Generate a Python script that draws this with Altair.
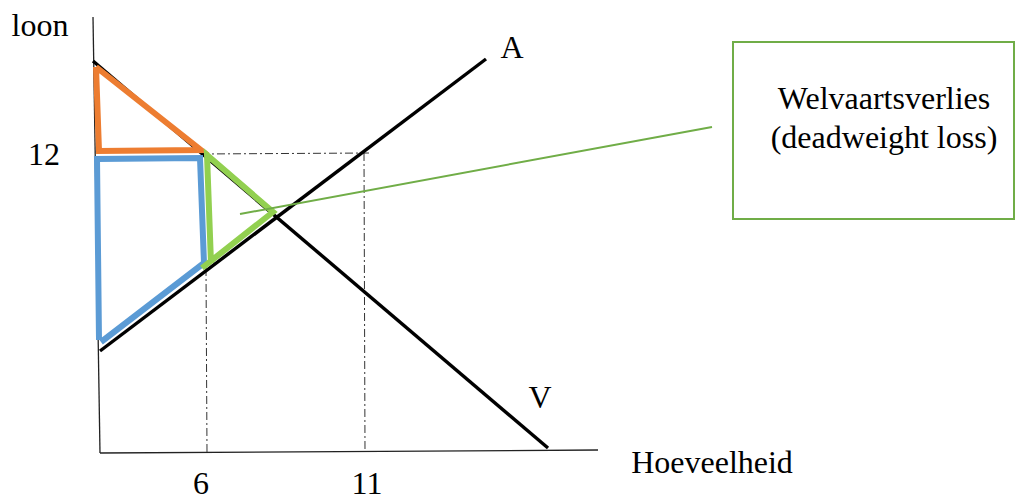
import altair as alt
import pandas as pd

# ---- data (drawing coordinates, y grows downward) ----
yaxis_x = [93, 100]
yaxis_y = [17, 453]
xaxis_x = [100, 598]
xaxis_y = [453, 450]

supply_x = [100, 486]          # A
supply_y = [351, 59]
demand_x = [93, 548]           # V
demand_y = [61, 448]

guide_h_x = [201, 369]
guide_h_y = [154, 153]
guide_v6_x = [206, 207]
guide_v6_y = [268, 452]
guide_v11_x = [364, 365]
guide_v11_y = [153, 451]

orange_x = [96, 99, 201, 96]
orange_y = [67, 151, 150, 67]
blue_x = [99, 97, 200, 204, 101]
blue_y = [340, 159, 158, 263, 342]
green_x = [202, 273, 207, 211]
green_y = [268, 212, 155, 263]

pointer_x = [240, 712]
pointer_y = [214, 127]

box_x = [733, 1014]
box_y = [42, 219]

label_text = ["loon", "12", "6", "11", "Hoeveelheid", "A", "V",
              "Welvaartsverlies", "(deadweight loss)"]
label_x = [40, 44, 201, 367, 712, 512, 540, 884, 884]
label_y = [36, 165, 494, 494, 473, 58, 408, 109, 148]


def path(name, xs, ys):
    return pd.DataFrame({"shape": name, "i": range(len(xs)), "x": xs, "y": ys})


X = alt.X("x:Q", scale=alt.Scale(domain=[8, 1016], nice=False, zero=False), axis=None)
Y = alt.Y("y:Q", scale=alt.Scale(domain=[8, 502], reverse=True, nice=False, zero=False), axis=None)


def line_layer(df, color, width, dash=None):
    kw = dict(color=color, strokeWidth=width, clip=False)
    if dash is not None:
        kw["strokeDash"] = dash
    return alt.Chart(df).mark_line(**kw).encode(
        x=X, y=Y, detail="shape:N", order="i:Q"
    )


axes_df = pd.concat([path("yaxis", yaxis_x, yaxis_y), path("xaxis", xaxis_x, xaxis_y)])
curves_df = pd.concat([path("A", supply_x, supply_y), path("V", demand_x, demand_y)])
guides_df = pd.concat([
    path("h", guide_h_x, guide_h_y),
    path("v6", guide_v6_x, guide_v6_y),
    path("v11", guide_v11_x, guide_v11_y),
])

layers = [
    line_layer(axes_df, "#222222", 1.3),
    line_layer(guides_df, "#333333", 1, [8, 3, 2, 3]),
    line_layer(curves_df, "#000000", 3.4),
    line_layer(path("orange", orange_x, orange_y), "#ED7D31", 6),
    line_layer(path("blue", blue_x, blue_y), "#5B9BD5", 6),
    line_layer(path("green", green_x, green_y), "#92D050", 6),
    line_layer(path("pointer", pointer_x, pointer_y), "#70AD47", 2),
]

box_df = pd.DataFrame({"x": [box_x[0]], "x2": [box_x[1]], "y": [box_y[0]], "y2": [box_y[1]]})
box = alt.Chart(box_df).mark_rect(
    fill="white", fillOpacity=0, stroke="#70AD47", strokeWidth=2
).encode(x=X, x2="x2:Q", y=Y, y2="y2:Q")

labels_df = pd.DataFrame({"t": label_text, "x": label_x, "y": label_y})
labels = alt.Chart(labels_df).mark_text(
    font="Liberation Serif", fontSize=32, align="center", baseline="alphabetic",
    color="#000000"
).encode(x=X, y=Y, text="t:N")

chart = alt.layer(*layers, box, labels).properties(
    width=1008, height=494, padding=0, background="white",
    autosize=alt.AutoSizeParams(type="none")
).configure_view(strokeWidth=0)

chart.save("out.html", embed_options={"renderer": "svg", "actions": False})
